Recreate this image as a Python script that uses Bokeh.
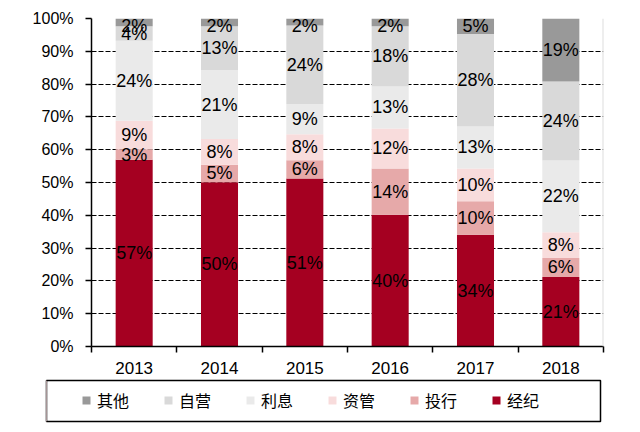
from bokeh.plotting import figure
from bokeh.models import Range1d, FixedTicker, Span, Legend, LegendItem, ColumnDataSource
from bokeh.layouts import column, row
from bokeh.embed import file_html
from bokeh.resources import INLINE
from bokeh.core.properties import value

years = ["2013", "2014", "2015", "2016", "2017", "2018"]
series = ["经纪", "投行", "资管", "利息", "自营", "其他"]
jingji = [56.9, 50.1, 51.2, 40.2, 34.1, 21.2]
touhang = [3.2, 5.3, 5.6, 14.1, 10.2, 5.8]
ziguan = [8.7, 7.9, 7.9, 12.2, 10.0, 7.8]
lixi = [24.4, 20.9, 9.2, 12.8, 12.8, 21.9]
ziying = [4.4, 13.4, 24.0, 18.3, 28.2, 24.1]
qita = [2.4, 2.4, 2.1, 2.4, 4.7, 19.2]
colors = ["#A50021", "#E6A9A9", "#F8DCDC", "#EAEAEA", "#D9D9D9", "#999999"]
yticks = list(range(0, 101, 10))

values = [jingji, touhang, ziguan, lixi, ziying, qita]
keys = ["s%d" % i for i in range(len(series))]
xs = [i + 0.5 for i in range(len(years))]
data = {"x": xs}
for k, v in zip(keys, values):
    data[k] = v
src = ColumnDataSource(data)

NUM = "Liberation Sans"

p = figure(width=624, height=378, x_range=Range1d(0, len(years)), y_range=Range1d(0, 100),
           output_backend="svg", toolbar_location=None,
           min_border_left=91, min_border_right=21, min_border_top=18, min_border_bottom=32)
p.outline_line_color = None
p.background_fill_color = "white"

bars = p.vbar_stack(keys, x="x", width=0.434, color=colors, line_color=None, source=src)

# labels
lx, ly, lt = [], [], []
for j in range(len(years)):
    base = 0.0
    for v in values:
        v_j = v[j]
        mid = base + v_j / 2.0
        lx.append(xs[j])
        ly.append(min(mid, 97.7))
        lt.append("%d%%" % round(v_j))
        base += v_j
p.text(x=lx, y=ly, text=lt, text_align="center", text_baseline="middle",
       text_font=value(NUM), text_font_size="18px", text_color="black")

# grid
p.xgrid.visible = False
p.ygrid.ticker = FixedTicker(ticks=yticks[1:])
p.ygrid.grid_line_color = "black"
p.ygrid.grid_line_dash = "5 2"
p.ygrid.grid_line_width = 1

# y axis
p.yaxis.ticker = FixedTicker(ticks=yticks)
p.yaxis.major_label_overrides = {t: "%d%%" % t for t in yticks}
p.yaxis.major_tick_out = 6
p.yaxis.major_tick_in = 0
p.yaxis.minor_tick_out = 0
p.yaxis.minor_tick_in = 0
p.yaxis.axis_line_width = 1.5
p.yaxis.major_tick_line_width = 1.5
p.yaxis.major_label_standoff = 12
p.yaxis.major_label_text_font = NUM
p.yaxis.major_label_text_font_size = "16px"
p.yaxis.major_label_text_color = "black"

# x axis
p.xaxis.ticker = FixedTicker(ticks=xs, minor_ticks=list(range(len(years) + 1)))
p.xaxis.major_label_overrides = {x: y for x, y in zip(xs, years)}
p.xaxis.major_tick_out = 0
p.xaxis.major_tick_in = 0
p.xaxis.minor_tick_out = 6
p.xaxis.minor_tick_in = 0
p.xaxis.minor_tick_line_color = "black"
p.xaxis.minor_tick_line_width = 1.5
p.xaxis.axis_line_width = 1.5
p.xaxis.major_label_standoff = 9
p.xaxis.major_label_text_font = NUM
p.xaxis.major_label_text_font_size = "17px"
p.xaxis.major_label_text_color = "black"

p.add_layout(Span(location=len(years), dimension="height", line_color="#dddddd", line_width=2))

# legend figure: its frame outline is the legend box
p2 = figure(width=624, height=46, x_range=Range1d(0, 1), y_range=Range1d(0, 1),
            output_backend="svg", toolbar_location=None, x_axis_type=None, y_axis_type=None,
            min_border_left=46, min_border_right=24, min_border_top=2, min_border_bottom=3)
p2.outline_line_color = "black"
p2.outline_line_width = 1.5
p2.grid.visible = False
items = []
for s, c in zip(series, colors):
    r = p2.vbar(x=[-5], top=[1], width=0.1, fill_color=c, line_color=None)
    items.append(LegendItem(label=s, renderers=[r]))
items = items[::-1]
legend = Legend(items=items, orientation="horizontal", location=(35, 9),
                padding=0, margin=0, spacing=34, glyph_width=10, glyph_height=10, label_standoff=6,
                border_line_alpha=0, background_fill_alpha=0,
                label_text_font="Noto Sans CJK SC", label_text_font_size="16px",
                label_text_color="black")
p2.add_layout(legend)

layout = column(p, row(p2, spacing=0), spacing=0)
open("out.html", "w").write(file_html(layout, INLINE))
